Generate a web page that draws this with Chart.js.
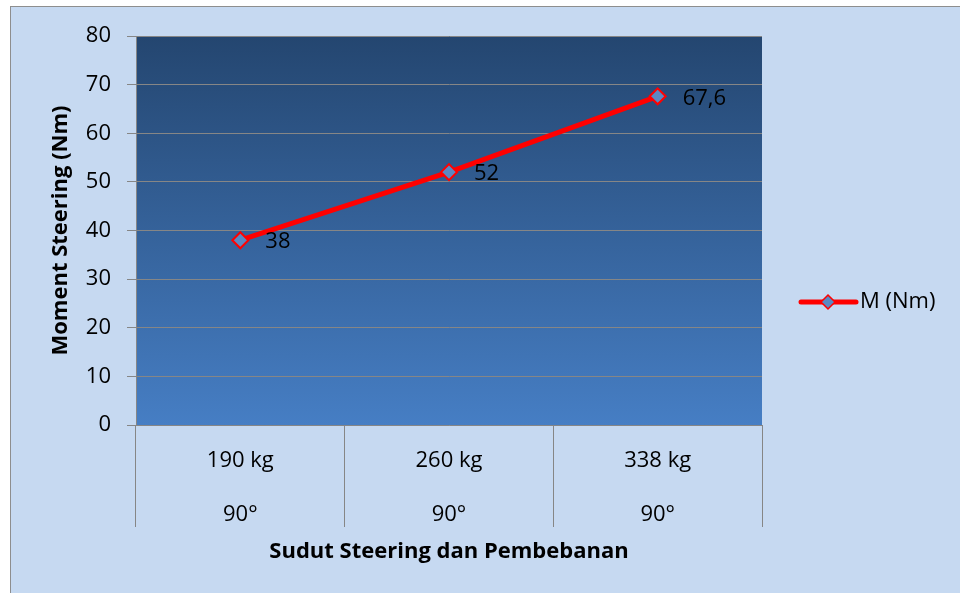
<!DOCTYPE html>
<html>
<head>
<meta charset="utf-8">
<script src="https://cdn.jsdelivr.net/npm/chart.js@4"></script>
<style>
  html, body { margin: 0; padding: 0; background: #fff; }
  #wrap { position: absolute; left: 0; top: 0; width: 960px; height: 593px; }
</style>
</head>
<body>
<div id="wrap"><canvas id="myChart" width="960" height="593"></canvas></div>
<script>
// data
var loads = ['190 kg', '260 kg', '338 kg'];
var angles = ['90°', '90°', '90°'];
var momentNm = [38, 52, 67.6];
var seriesName = 'M (Nm)';
var yTicks = [0, 10, 20, 30, 40, 50, 60, 70, 80];

var FONT = '"Open Sans", Lato, sans-serif';
var labels = loads.map(function (l, i) { return [l, angles[i]]; });

// frame + plot gradient
var backdrop = {
  id: 'backdrop',
  beforeDraw: function (chart) {
    var c = chart.ctx, a = chart.chartArea;
    c.save();
    c.fillStyle = '#c6d9f1';
    c.fillRect(10, 6, 960, 593);
    c.strokeStyle = '#8e8e8e';
    c.lineWidth = 1;
    c.strokeRect(10.5, 6.5, 960, 600);
    var g = c.createLinearGradient(0, a.top, 0, a.bottom);
    g.addColorStop(0, '#244670');
    g.addColorStop(1, '#467ec4');
    c.fillStyle = g;
    c.fillRect(a.left, a.top, a.right - a.left, a.bottom - a.top);
    c.restore();
  }
};

// value labels right of each point
var valueLabels = {
  id: 'valueLabels',
  afterDatasetsDraw: function (chart) {
    var c = chart.ctx;
    var meta = chart.getDatasetMeta(0);
    c.save();
    c.font = '22px ' + FONT;
    c.fillStyle = '#000';
    c.textAlign = 'left';
    c.textBaseline = 'middle';
    meta.data.forEach(function (pt, i) {
      c.fillText(String(momentNm[i]).replace('.', ','), pt.x + 25, pt.y + 2);
    });
    c.restore();
  }
};

// legend on the right
var sideLegend = {
  id: 'sideLegend',
  afterDraw: function (chart) {
    var c = chart.ctx, ds = chart.data.datasets[0];
    var y = 302, x0 = 801, x1 = 856, mx = 828;
    c.save();
    c.strokeStyle = ds.borderColor;
    c.lineWidth = ds.borderWidth;
    c.lineCap = 'round';
    c.beginPath(); c.moveTo(x0, y); c.lineTo(x1, y); c.stroke();
    c.fillStyle = ds.pointBackgroundColor;
    c.strokeStyle = ds.pointBorderColor;
    c.lineWidth = 1.5;
    var r = 7;
    c.beginPath();
    c.moveTo(mx, y - r); c.lineTo(mx + r, y); c.lineTo(mx, y + r); c.lineTo(mx - r, y); c.closePath();
    c.fill(); c.stroke();
    c.font = '22px ' + FONT;
    c.fillStyle = '#000';
    c.textBaseline = 'middle';
    c.fillText(ds.label, 860, y);
    c.restore();
  }
};

var ctx = document.getElementById('myChart').getContext('2d');
var myChart = new Chart(ctx, {
  type: 'line',
  data: {
    labels: labels,
    datasets: [{
      label: seriesName,
      data: momentNm,
      borderColor: '#ff0000',
      borderWidth: 5,
      pointStyle: 'rectRot',
      pointRadius: 8,
      pointHoverRadius: 8,
      pointBackgroundColor: '#5b88c2',
      pointBorderColor: '#ff0000',
      pointBorderWidth: 2,
      tension: 0
    }]
  },
  options: {
    responsive: false,
    animation: false,
    events: [],
    layout: { padding: { left: 10, top: 36, right: 198, bottom: 0 } },
    plugins: { legend: { display: false }, tooltip: { enabled: false } },
    scales: {
      x: {
        offset: true,
        grid: { offset: true, drawOnChartArea: false, drawTicks: true, tickLength: 102, color: '#868686' },
        border: { color: '#868686' },
        ticks: { color: '#000', padding: -93, maxRotation: 0, font: { family: FONT, size: 22, lineHeight: 2.46 } },
        title: { display: true, text: 'Sudut Steering dan Pembebanan', color: '#000',
                 font: { family: FONT, size: 22, weight: 'bold' }, padding: { top: 28, bottom: 28 } },
        afterFit: function (s) { s.height = 168; }
      },
      y: {
        min: 0, max: 80,
        afterBuildTicks: function (s) { s.ticks = yTicks.map(function (v) { return { value: v }; }); },
        grid: { color: '#868686', tickLength: 9 },
        border: { color: '#868686' },
        ticks: { color: '#000', padding: 16, font: { family: FONT, size: 22 } },
        title: { display: true, text: 'Moment Steering (Nm)', color: '#000',
                 font: { family: FONT, size: 22, weight: 'bold' }, padding: { top: 38, bottom: 0 } },
        afterFit: function (s) { s.width = 126; }
      }
    }
  },
  plugins: [backdrop, valueLabels, sideLegend]
});
</script>
</body>
</html>
